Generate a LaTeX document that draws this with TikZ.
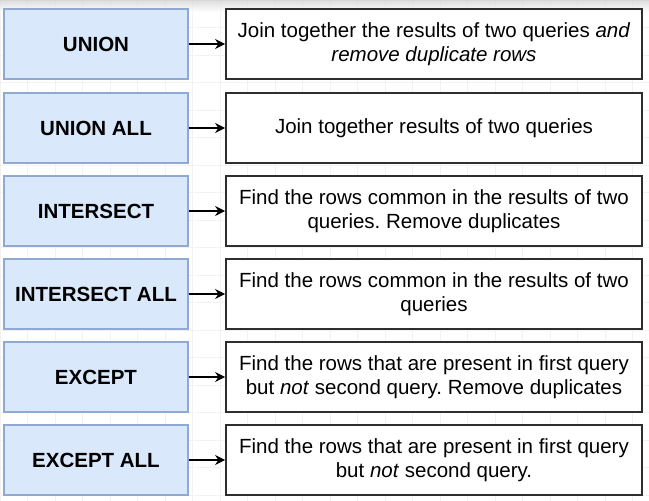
\documentclass[tikz,border=0pt]{standalone}
\usepackage{fontspec}
\setmainfont{Liberation Sans}
\usetikzlibrary{arrows.meta}
\frenchspacing
\definecolor{opfill}{HTML}{DAE8FC}
\definecolor{opline}{HTML}{8FA9D3}
\definecolor{descline}{HTML}{2E2E2E}
\definecolor{gridc}{HTML}{F2F2F2}
\tikzset{
  opbox/.style={draw=opline, fill=opfill, line width=1.3pt, minimum width=184pt, minimum height=70pt, inner sep=0pt, align=center, font=\fontsize{20.5}{24}\selectfont\bfseries},
  descbox/.style={draw=descline, fill=white, line width=1.8pt, minimum width=416pt, minimum height=70pt, inner sep=0pt, align=center, font=\fontsize{20.5}{24}\selectfont},
  conn/.style={-{Stealth[length=10pt,width=10pt]}, line width=1.3pt, black}
}
\begin{document}
\begin{tikzpicture}[x=1pt,y=-1pt]
\useasboundingbox (0,0) rectangle (649,501);
\fill[white] (0,0) rectangle (649,501);
\draw[gridc, line width=0.8pt] (0,0) grid[step=27.5pt] (649,501);
\shade[top color=black!22, bottom color=white, opacity=0.6] (0,0) rectangle (649,12);
\foreach \y/\n in {44/1,128/2,211/3,294/4,377/5,460/6}{
  \coordinate (L\n) at (96,\y);
  \coordinate (R\n) at (434,\y);
}
\node[opbox] (o1) at (L1) {UNION};
\node[opbox] (o2) at (L2) {UNION ALL};
\node[opbox] (o3) at (L3) {INTERSECT};
\node[opbox] (o4) at (L4) {INTERSECT ALL};
\node[opbox] (o5) at (L5) {EXCEPT};
\node[opbox] (o6) at (L6) {EXCEPT ALL};
\node[descbox] (d1) at (R1) {Join together the results of two queries \textit{and}\\\textit{remove duplicate rows}};
\node[descbox] (d2) at (R2) {Join together results of two queries};
\node[descbox] (d3) at (R3) {Find the rows common in the results of two\\queries. Remove duplicates};
\node[descbox] (d4) at (R4) {Find the rows common in the results of two\\queries};
\node[descbox] (d5) at (R5) {Find the rows that are present in first query\\but \textit{not} second query. Remove duplicates};
\node[descbox] (d6) at (R6) {Find the rows that are present in first query\\but \textit{not} second query.};
\foreach \n in {1,...,6}{
  \draw[conn] (o\n.east) -- (d\n.west);
}
\end{tikzpicture}
\end{document}
